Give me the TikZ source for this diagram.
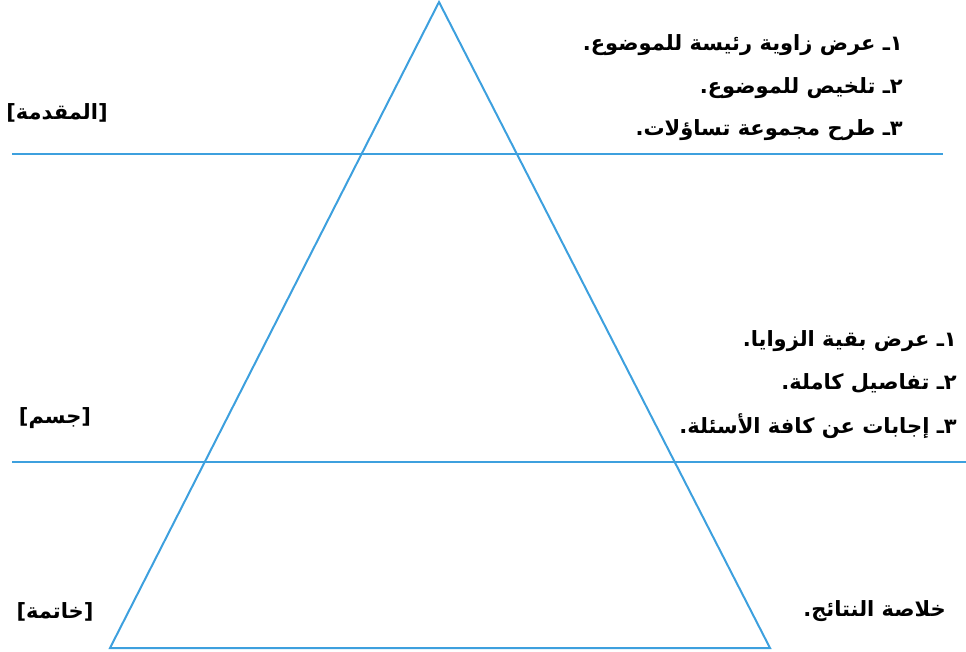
\documentclass[tikz,border=0pt]{standalone}
\usepackage{fontspec}
\TeXXeTstate=1
\newfontfamily\arabicfont[Script=Arabic]{DejaVu Sans}
\newfontfamily\bracketfont{DejaVu Sans}
\usepackage{tikz}
\usetikzlibrary{positioning}
\definecolor{lineblue}{RGB}{61,160,222}
\newcommand{\bracketed}[1]{{\bracketfont[}\beginR{\arabicfont #1}\endR{\bracketfont]}}

\begin{document}
\begin{tikzpicture}[x=1pt,y=-1pt,
  sep/.style={lineblue,line width=2pt},
  item/.style={anchor=east,inner sep=0pt,font=\arabicfont\bfseries\fontsize{21}{24}\selectfont},
  part/.style={anchor=center,inner sep=0pt,font=\bfseries\fontsize{21}{24}\selectfont}]
\useasboundingbox (0,0) rectangle (966,651);
% Pyramid
\coordinate (top) at (439,2);
\coordinate (bl) at (110,648);
\coordinate (br) at (770,648);
\draw[sep,line join=miter] (top) -- (bl) -- (br) -- cycle;
% Dividers
\coordinate (d1l) at (12,154);
\coordinate (d1r) at (943,154);
\coordinate (d2l) at (12,462);
\coordinate (d2r) at (966,462);
\draw[sep] (d1l) -- (d1r);
\draw[sep] (d2l) -- (d2r);
% Introduction
\node[part] (intro) at (57,113) {\bracketed{المقدمة}};
\node[item] (intro1) at (903,45) {\beginR ١ـ عرض زاوية رئيسة للموضوع.\endR};
\node[item] (intro2) at (903,88) {\beginR ٢ـ تلخيص للموضوع.\endR};
\node[item] (intro3) at (903,130) {\beginR ٣ـ طرح مجموعة تساؤلات.\endR};
% Body
\node[part] (body) at (55,418) {\bracketed{جسم}};
\node[item] (body1) at (957,341) {\beginR ١ـ عرض بقية الزوايا.\endR};
\node[item] (body2) at (957,383) {\beginR ٢ـ تفاصيل كاملة.\endR};
\node[item] (body3) at (957,426) {\beginR ٣ـ إجابات عن كافة الأسئلة.\endR};
% Conclusion
\node[part] (concl) at (55,612) {\bracketed{خاتمة}};
\node[item] (concl1) at (946,611) {\beginR خلاصة النتائج.\endR};
\end{tikzpicture}
\end{document}
